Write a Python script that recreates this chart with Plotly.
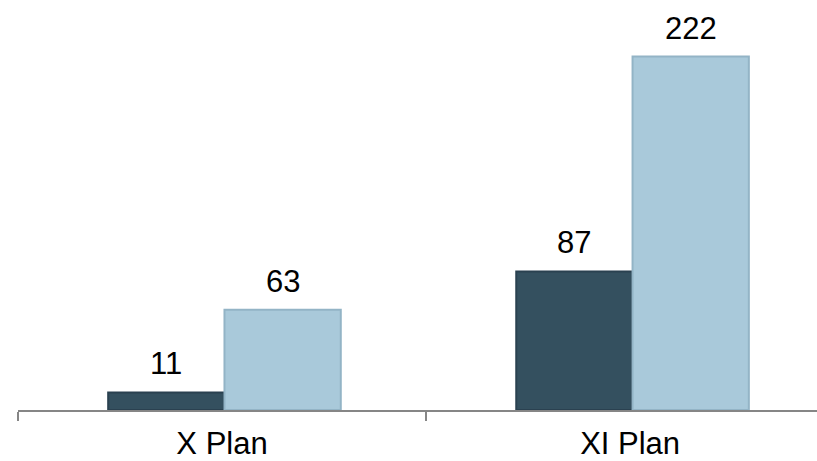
import plotly.graph_objects as go

# Plan periods and the two series plotted for each
categories = ["X Plan", "XI Plan"]
series_a = [11, 87]
series_b = [63, 222]

dark = "#34505F"
light = "#A9C9DA"
bargap = 0.43
bar_w = (1 - bargap) / 2
shift = 0.006  # groups sit slightly right of the category centre

fig = go.Figure()
fig.add_trace(go.Bar(
    x=categories, y=series_a, name="A",
    width=bar_w, offset=-bar_w + shift,
    marker=dict(color=dark, line=dict(color="#2A4150", width=2)),
))
fig.add_trace(go.Bar(
    x=categories, y=series_b, name="B",
    width=bar_w, offset=shift,
    marker=dict(color=light, line=dict(color="#93B4C6", width=2)),
))

# Value labels above each bar
font = dict(family="Liberation Sans, Arial, sans-serif", size=31, color="#000000")
for vals, off in ((series_a, -bar_w / 2 + shift), (series_b, bar_w / 2 + shift)):
    for i, v in enumerate(vals):
        fig.add_annotation(
            x=i + off, y=v, text=str(v), showarrow=False,
            xref="x", yref="y", yanchor="bottom", yshift=9, font=font,
        )

fig.update_layout(
    width=817, height=461,
    margin=dict(l=18, r=0, t=0, b=49),
    paper_bgcolor="white", plot_bgcolor="white",
    barmode="overlay",
    showlegend=False,
    xaxis=dict(
        type="category", range=[-0.5, 1.458],
        showline=True, linecolor="#868686", linewidth=2,
        ticks="outside", tickson="boundaries", ticklen=9, tickwidth=2,
        tickcolor="#868686", showgrid=False, zeroline=False,
        tickfont=font, ticklabelstandoff=5,
    ),
    yaxis=dict(range=[0, 257.5], visible=False, showgrid=False, zeroline=False),
)

fig.write_html("out.html")
